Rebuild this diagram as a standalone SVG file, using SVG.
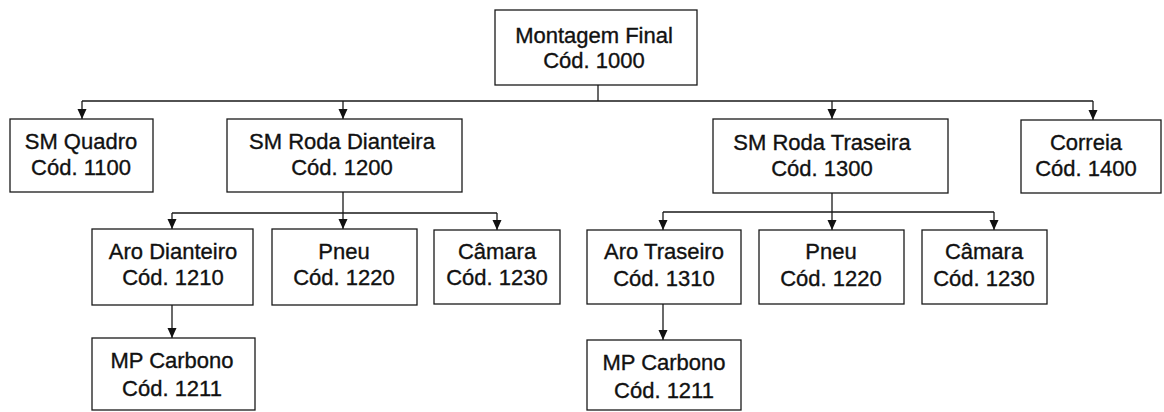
<svg xmlns="http://www.w3.org/2000/svg" width="1164" height="412" viewBox="0 0 1164 412">
<style>
.box{fill:#fff;stroke:#1a1a1a;stroke-width:1.3}
.t{font-family:"Liberation Sans",Arial,sans-serif;font-size:22px;fill:#111;stroke:#111;stroke-width:0.35;text-anchor:middle}
.c{fill:none;stroke:#1a1a1a;stroke-width:1.3}
</style>
<defs>
<marker id="arr" markerUnits="userSpaceOnUse" markerWidth="10" markerHeight="11" viewBox="0 0 10 11" refX="10" refY="5" orient="auto">
<path d="M0,0.5 L10,5 L0,9.5 Z" fill="#111"/>
</marker>
</defs>
<rect width="1164" height="412" fill="#fff"/>
<g id="connectors">
<path class="c" d="M598,85 V101 M82,101 H1093"/>
<path class="c" d="M82,101 V119" marker-end="url(#arr)"/>
<path class="c" d="M343,101 V119" marker-end="url(#arr)"/>
<path class="c" d="M832,101 V119" marker-end="url(#arr)"/>
<path class="c" d="M1093,101 V120" marker-end="url(#arr)"/>
<path class="c" d="M343,192 V213 M172,213 H497"/>
<path class="c" d="M172,213 V229" marker-end="url(#arr)"/>
<path class="c" d="M343,213 V229" marker-end="url(#arr)"/>
<path class="c" d="M497,213 V230" marker-end="url(#arr)"/>
<path class="c" d="M832,193 V212 M663,212 H994"/>
<path class="c" d="M663,212 V230" marker-end="url(#arr)"/>
<path class="c" d="M832,212 V230" marker-end="url(#arr)"/>
<path class="c" d="M994,212 V230" marker-end="url(#arr)"/>
<path class="c" d="M172,305 V338" marker-end="url(#arr)"/>
<path class="c" d="M663,304 V340" marker-end="url(#arr)"/>
</g>
<g id="n1000"><rect class="box" x="495" y="10" width="202" height="75"/><text class="t" x="594" y="43">Montagem Final</text><text class="t" x="594" y="68">Cód. 1000</text></g>
<g id="n1100"><rect class="box" x="10" y="119" width="143" height="73"/><text class="t" x="81" y="149">SM Quadro</text><text class="t" x="81" y="175">Cód. 1100</text></g>
<g id="n1200"><rect class="box" x="227" y="119" width="235" height="73"/><text class="t" x="342" y="149">SM Roda Dianteira</text><text class="t" x="342" y="175">Cód. 1200</text></g>
<g id="n1300"><rect class="box" x="713" y="119" width="235" height="74"/><text class="t" x="822" y="150">SM Roda Traseira</text><text class="t" x="822" y="176">Cód. 1300</text></g>
<g id="n1400"><rect class="box" x="1021" y="120" width="140" height="73"/><text class="t" x="1086" y="150">Correia</text><text class="t" x="1086" y="176">Cód. 1400</text></g>
<g id="n1210"><rect class="box" x="92" y="229" width="161" height="76"/><text class="t" x="173" y="259">Aro Dianteiro</text><text class="t" x="173" y="285">Cód. 1210</text></g>
<g id="n1220a"><rect class="box" x="272" y="229" width="145" height="76"/><text class="t" x="344" y="259">Pneu</text><text class="t" x="344" y="285">Cód. 1220</text></g>
<g id="n1230a"><rect class="box" x="434" y="230" width="126" height="74"/><text class="t" x="497" y="259">Câmara</text><text class="t" x="497" y="285">Cód. 1230</text></g>
<g id="n1211a"><rect class="box" x="92" y="338" width="163" height="72"/><text class="t" x="172" y="368">MP Carbono</text><text class="t" x="172" y="396">Cód. 1211</text></g>
<g id="n1310"><rect class="box" x="587" y="230" width="154" height="74"/><text class="t" x="664" y="259">Aro Traseiro</text><text class="t" x="664" y="286">Cód. 1310</text></g>
<g id="n1220b"><rect class="box" x="759" y="230" width="145" height="74"/><text class="t" x="831" y="259">Pneu</text><text class="t" x="831" y="286">Cód. 1220</text></g>
<g id="n1230b"><rect class="box" x="922" y="230" width="125" height="74"/><text class="t" x="984" y="259">Câmara</text><text class="t" x="984" y="286">Cód. 1230</text></g>
<g id="n1211b"><rect class="box" x="587" y="340" width="154" height="70"/><text class="t" x="664" y="370">MP Carbono</text><text class="t" x="664" y="398">Cód. 1211</text></g>
</svg>
